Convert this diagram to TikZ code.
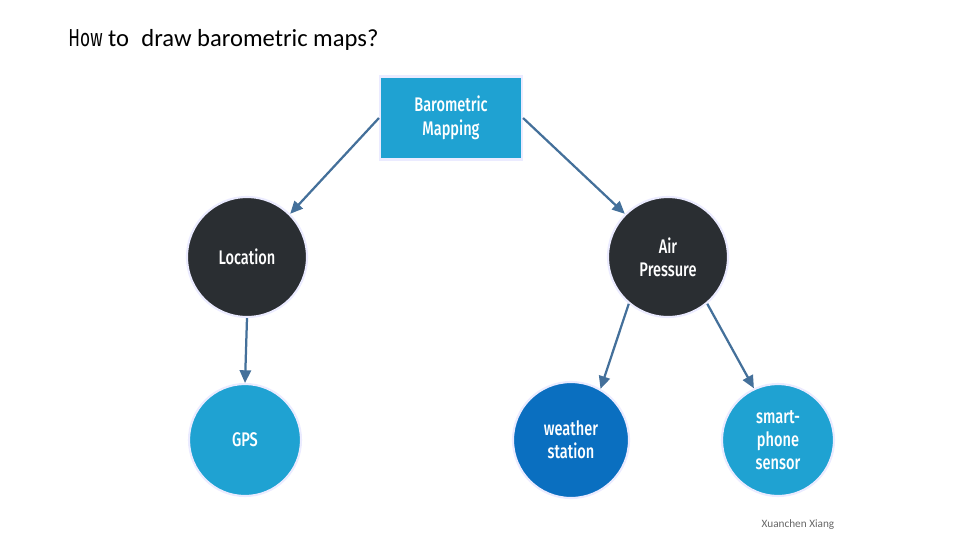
\documentclass[tikz,border=0pt]{standalone}
\usepackage{fontspec}
\setmainfont{Carlito}
\newfontfamily\cond[FakeStretch=0.74]{Fira Sans Medium}
\newfontfamily\condl[FakeStretch=0.7]{Fira Sans}
\usetikzlibrary{arrows.meta}
\definecolor{lblue}{HTML}{1FA2D2}
\definecolor{dblue}{HTML}{0A6FC0}
\definecolor{dark}{HTML}{2A2E32}
\definecolor{arr}{HTML}{44709A}
\begin{document}
\begin{tikzpicture}[x=0.05cm,y=-0.05cm,
  circ/.style={circle,draw=blue!8,line width=3pt,text=white,font=\cond\fontsize{28}{33}\selectfont,align=center,inner sep=0pt},
  conn/.style={draw=arr,line width=3.2pt,-{Triangle[length=18pt,width=16pt]}}]
\useasboundingbox (0,0) rectangle (960,540);
\node[anchor=west,font=\fontsize{35}{38}\selectfont] (title) at (66,40) {{\condl How} to\enspace draw barometric maps?};
\node[rectangle,draw=blue!8,line width=3pt,fill=lblue,minimum width=7.1cm,minimum height=4.15cm,text=white,align=center,font=\cond\fontsize{28}{34}\selectfont] (bm) at (451,118) {Barometric\\Mapping};
\node[circ,fill=dark,minimum size=6cm] (loc) at (247,257) {Location};
\node[circ,fill=dark,minimum size=6cm] (air) at (668,257) {Air\\Pressure};
\node[circ,fill=lblue,minimum size=5.6cm] (gps) at (245,440) {GPS};
\node[circ,fill=dblue,minimum size=5.8cm] (ws) at (571,440) {weather\\station};
\node[circ,fill=lblue,minimum size=5.6cm] (sp) at (778,440) {smart-\\phone\\sensor};
\draw[conn] (bm.west) -- (loc.45);
\draw[conn] (bm.east) -- (air.135);
\draw[conn] (loc.south) -- (gps.north);
\draw[conn] (air.-130) -- (ws.60);
\draw[conn] (air.-50) -- (sp.115);
\node[text=gray!80!black,font=\fontsize{16}{18}\selectfont] (cr) at (798,525) {Xuanchen Xiang};
\end{tikzpicture}
\end{document}
